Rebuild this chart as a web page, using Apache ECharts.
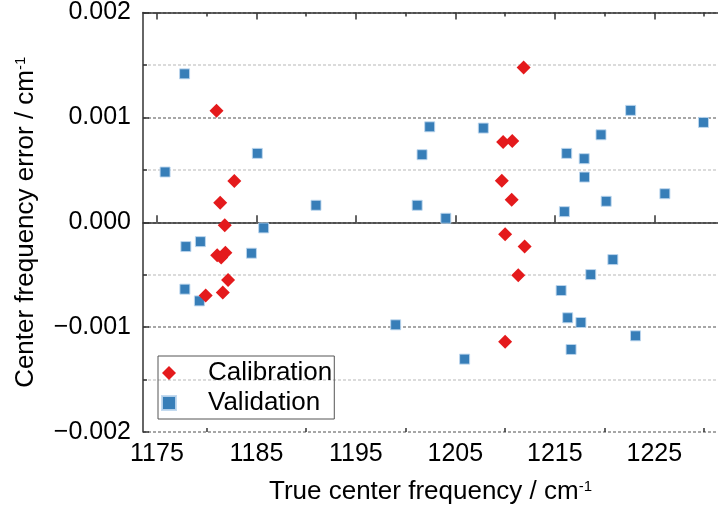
<!DOCTYPE html>
<html>
<head>
<meta charset="utf-8">
<script src="https://cdn.jsdelivr.net/npm/echarts@6/dist/echarts.min.js"></script>
<style>html,body{margin:0;padding:0;background:#fff;}#c{width:718px;height:511px;}</style>
</head>
<body>
<div id="c"></div>
<script>
// Calibration (red diamonds)
var calX = [1180.99, 1182.78, 1181.36, 1181.82, 1181.06, 1181.88, 1181.46, 1182.15, 1179.90, 1181.62,
            1211.86, 1209.80, 1210.72, 1209.67, 1210.66, 1210.00, 1211.96, 1211.32, 1210.00];
var calY = [0.001063, 0.000393, 0.000187, -0.000029, -0.000314, -0.000290, -0.000337, -0.000550, -0.000699, -0.000670,
            0.001476, 0.000765, 0.000774, 0.000396, 0.000215, -0.000114, -0.000232, -0.000505, -0.001140];
// Validation (blue squares)
var valX = [1175.82, 1177.78, 1177.91, 1177.81, 1179.37, 1179.27, 1185.09, 1185.73, 1184.50, 1190.99,
            1199.00, 1201.16, 1201.65, 1202.42, 1204.04, 1205.93, 1207.81, 1215.63, 1215.96, 1216.19,
            1216.29, 1216.63, 1217.62, 1217.95, 1217.98, 1218.61, 1219.64, 1220.16, 1220.83, 1222.62,
            1223.11, 1226.06, 1229.94];
var valY = [0.000479, 0.001415, -0.000232, -0.000638, -0.000185, -0.000750, 0.000657, -0.000054, -0.000295, 0.000162,
            -0.000978, 0.000162, 0.000644, 0.000910, 0.000038, -0.001305, 0.000898, -0.000651, 0.000101, 0.000657,
            -0.000911, -0.001213, -0.000956, 0.000606, 0.000431, -0.000499, 0.000834, 0.000200, -0.000356, 0.001067,
            -0.001083, 0.000272, 0.000952];
var xMajorTicks = [1175, 1185, 1195, 1205, 1215, 1225];
var xMinorTicks = [1180, 1190, 1200, 1210, 1220, 1230];
var xLabels = [1175, 1185, 1195, 1205, 1215, 1225];
var seriesNames = ['Calibration', 'Validation'];

function pairs(xs, ys) { return xs.map(function (x, i) { return [x, ys[i]]; }); }

var FONT = '"Liberation Sans", Arial, sans-serif';
var AXIS_COLOR = '#333';
var X_MIN = 1173.6, X_MAX = 1231.4;

function xAxisDef(pos, ticks, len, showLine, showLabel, extra) {
  var a = {
    type: 'value', position: pos, min: X_MIN, max: X_MAX,
    axisLine: { show: showLine, lineStyle: { color: AXIS_COLOR, width: 1.5 } },
    axisTick: { show: true, inside: true, length: len, customValues: ticks, lineStyle: { color: AXIS_COLOR, width: 1.5 } },
    axisLabel: {
      show: showLabel, customValues: xLabels, fontSize: 25, color: '#000', fontFamily: FONT, margin: 10,
      formatter: function (v) { return String(Math.round(v)); }
    },
    splitLine: { show: false }
  };
  if (extra) for (var k in extra) a[k] = extra[k];
  return a;
}

var chart = echarts.init(document.getElementById('c'), null, { renderer: 'canvas' });
chart.setOption({
  backgroundColor: '#fff',
  animation: false,
  textStyle: { fontFamily: FONT },
  grid: { left: 143, top: 12, right: -5, bottom: 79, containLabel: false },
  legend: {
    data: seriesNames,
    orient: 'vertical',
    left: 158, top: 356,
    padding: [4, 2, 3, 3],
    itemGap: 4,
    itemWidth: 14, itemHeight: 14,
    borderColor: '#555', borderWidth: 1,
    textStyle: { fontSize: 26, color: '#000', fontFamily: FONT, lineHeight: 26, padding: [0, 0, 0, 27] }
  },
  xAxis: [
    xAxisDef('bottom', xMajorTicks, 7, true, true, {
      name: 'True center frequency / cm{sup|-1}',
      nameLocation: 'middle', nameGap: 47,
      nameTextStyle: {
        fontSize: 26, color: '#000', fontFamily: FONT, lineHeight: 26,
        rich: { sup: { fontSize: 15, lineHeight: 15, verticalAlign: 'top', color: '#000', fontFamily: FONT } }
      }
    }),
    xAxisDef('bottom', xMinorTicks, 4, false, false),
    xAxisDef('top', xMajorTicks, 7, true, false),
    xAxisDef('top', xMinorTicks, 4, false, false)
  ],
  yAxis: {
    type: 'value', min: -0.002, max: 0.002, interval: 0.001,
    axisLine: { show: true, lineStyle: { color: AXIS_COLOR, width: 1.5 } },
    axisTick: { inside: true, length: 6, lineStyle: { color: AXIS_COLOR, width: 1.5 } },
    minorTick: { show: true, splitNumber: 2, length: 4, lineStyle: { color: AXIS_COLOR, width: 1.5 } },
    axisLabel: {
      fontSize: 25, color: '#000', fontFamily: FONT, margin: 12,
      formatter: function (v) { var s = Math.abs(v).toFixed(3); return (v < -1e-9 ? '\u2212' : '') + s; }
    },
    splitLine: { show: true, lineStyle: { color: '#8a8a8a', width: 1.5, type: [3, 2] } },
    minorSplitLine: { show: true, lineStyle: { color: '#cfcfcf', width: 1.5, type: [3, 2] } },
    name: 'Center frequency error / cm{sup|-1}',
    nameLocation: 'middle', nameGap: 104,
    nameTextStyle: {
      fontSize: 26, color: '#000', fontFamily: FONT, lineHeight: 26,
      rich: { sup: { fontSize: 15, lineHeight: 15, verticalAlign: 'top', color: '#000', fontFamily: FONT } }
    }
  },
  series: [
    {
      name: 'Validation', type: 'scatter', xAxisIndex: 0,
      symbol: 'rect', symbolSize: 10,
      itemStyle: { color: '#377eb8', borderColor: 'rgba(190,215,238,0.9)', borderWidth: 1, opacity: 1 },
      data: pairs(valX, valY)
    },
    {
      name: 'Calibration', type: 'scatter', xAxisIndex: 0,
      symbol: 'diamond', symbolSize: 14,
      itemStyle: { color: '#e41a1c', opacity: 1 },
      data: pairs(calX, calY)
    }
  ]
});
</script>
</body>
</html>
